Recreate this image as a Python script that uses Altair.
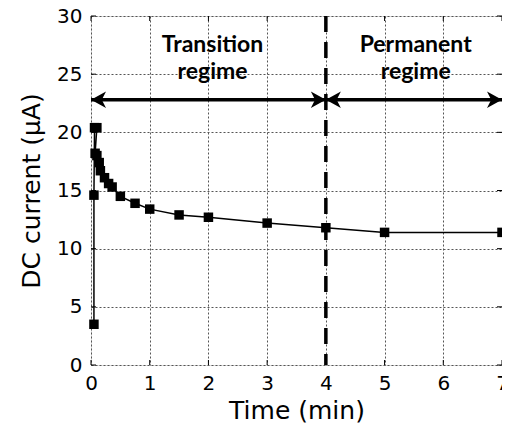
import altair as alt
import pandas as pd

# Measured data
time_min = [0.05, 0.05, 0.06, 0.10, 0.07, 0.10, 0.14, 0.16, 0.23, 0.30, 0.36, 0.5, 0.75, 1.0, 1.5, 2.0, 3.0, 4.0, 5.0, 7.0]
current_ua = [3.5, 14.6, 20.4, 20.4, 18.2, 18.0, 17.4, 16.7, 16.1, 15.6, 15.3, 14.5, 13.9, 13.4, 12.9, 12.7, 12.2, 11.8, 11.4, 11.4]

x_ticks = [0, 1, 2, 3, 4, 5, 6, 7]
y_ticks = [0, 5, 10, 15, 20, 25, 30]

boundary_time = 4
arrow_level = 22.8
arrow_starts = [0, 4]
arrow_ends = [4, 7]

label_x = [2.07, 2.07, 5.53, 5.53]
label_y = [26.9, 24.55, 26.9, 24.55]
label_text = ["Transition", "regime", "Permanent", "regime"]

W, H = 411, 349

df = pd.DataFrame({"t": time_min, "i": current_ua, "order": list(range(len(time_min)))})
xs = alt.Scale(domain=[0, 7], nice=False, zero=False)
ys = alt.Scale(domain=[0, 30], nice=False)

font = "DejaVu Sans"

xaxis = alt.Axis(values=x_ticks, format="d", title="Time (min)", grid=True, gridDash=[2, 2], gridColor="#555555",
                 gridWidth=1, ticks=False, domain=False, labelFont=font, labelFontSize=20,
                 labelColor="black", labelPadding=8, titleFont=font, titleFontSize=25,
                 titleFontWeight="normal", titleColor="black", titlePadding=5, labelFlush=False)
yaxis = alt.Axis(values=y_ticks, format="d", title="DC current (\u03bcA)", grid=True, gridDash=[2, 2], gridColor="#555555",
                 gridWidth=1, ticks=False, domain=False, labelFont=font, labelFontSize=20,
                 labelColor="black", labelPadding=9, titleFont=font, titleFontSize=25,
                 titleFontWeight="normal", titleColor="black", titlePadding=12, labelFlush=False)

base = alt.Chart(df)
line = base.mark_line(color="black", strokeWidth=1.5).encode(
    x=alt.X("t:Q", scale=xs, axis=xaxis),
    y=alt.Y("i:Q", scale=ys, axis=yaxis),
    order="order:Q",
)
pts = base.mark_point(shape="square", filled=True, size=90, color="black", opacity=1).encode(
    x=alt.X("t:Q", scale=xs), y=alt.Y("i:Q", scale=ys)
)

# inner tick marks (MATLAB style)
xt = pd.DataFrame({"v": x_ticks})
yt = pd.DataFrame({"v": y_ticks})
tb = alt.Chart(xt).mark_rule(color="black", strokeWidth=1).encode(
    x=alt.X("v:Q", scale=xs), y=alt.value(H), y2=alt.value(H - 5))
tt = alt.Chart(xt).mark_rule(color="black", strokeWidth=1).encode(
    x=alt.X("v:Q", scale=xs), y=alt.value(0), y2=alt.value(5))
tl = alt.Chart(yt).mark_rule(color="black", strokeWidth=1).encode(
    y=alt.Y("v:Q", scale=ys), x=alt.value(0), x2=alt.value(5))
tr = alt.Chart(yt).mark_rule(color="black", strokeWidth=1).encode(
    y=alt.Y("v:Q", scale=ys), x=alt.value(W), x2=alt.value(W - 5))

# vertical dashed boundary
vdf = pd.DataFrame({"t": [boundary_time]})
vline = alt.Chart(vdf).mark_rule(color="black", strokeWidth=3.5, strokeDash=[16, 10]).encode(
    x=alt.X("t:Q", scale=xs), y=alt.value(0), y2=alt.value(H))

# arrows
adf = pd.DataFrame({"a": arrow_starts, "b": arrow_ends, "y": [arrow_level] * 2})
arrow_lines = alt.Chart(adf).mark_rule(color="black", strokeWidth=3.5).encode(
    x=alt.X("a:Q", scale=xs), x2="b:Q", y=alt.Y("y:Q", scale=ys))

right_head = "M0,0 L-1,-0.55 L-0.72,0 L-1,0.55 Z"
left_head = "M0,0 L1,-0.55 L0.72,0 L1,0.55 Z"
rdf = pd.DataFrame({"t": arrow_ends, "y": [arrow_level] * 2})
ldf = pd.DataFrame({"t": arrow_starts, "y": [arrow_level] * 2})
rheads = alt.Chart(rdf).mark_point(shape=right_head, filled=True, size=900, color="black", opacity=1).encode(
    x=alt.X("t:Q", scale=xs), y=alt.Y("y:Q", scale=ys))
lheads = alt.Chart(ldf).mark_point(shape=left_head, filled=True, size=900, color="black", opacity=1).encode(
    x=alt.X("t:Q", scale=xs), y=alt.Y("y:Q", scale=ys))

tdf = pd.DataFrame({"x": label_x, "y": label_y, "text": label_text})
texts = alt.Chart(tdf).mark_text(font="Lato", fontWeight="bold", fontSize=23, color="black",
                                  align="center", baseline="alphabetic").encode(
    x=alt.X("x:Q", scale=xs), y=alt.Y("y:Q", scale=ys), text="text:N")

chart = alt.layer(line, pts, tb, tt, tl, tr, vline, arrow_lines, rheads, lheads, texts).properties(
    width=W, height=H,
    autosize=alt.AutoSizeParams(type="none"),
    padding={"left": 83, "top": 8, "right": 0, "bottom": 62},
).configure_view(stroke="black", strokeWidth=1.5).configure(background="white")

chart.save("out.html", embed_options={"renderer": "svg", "actions": False})
